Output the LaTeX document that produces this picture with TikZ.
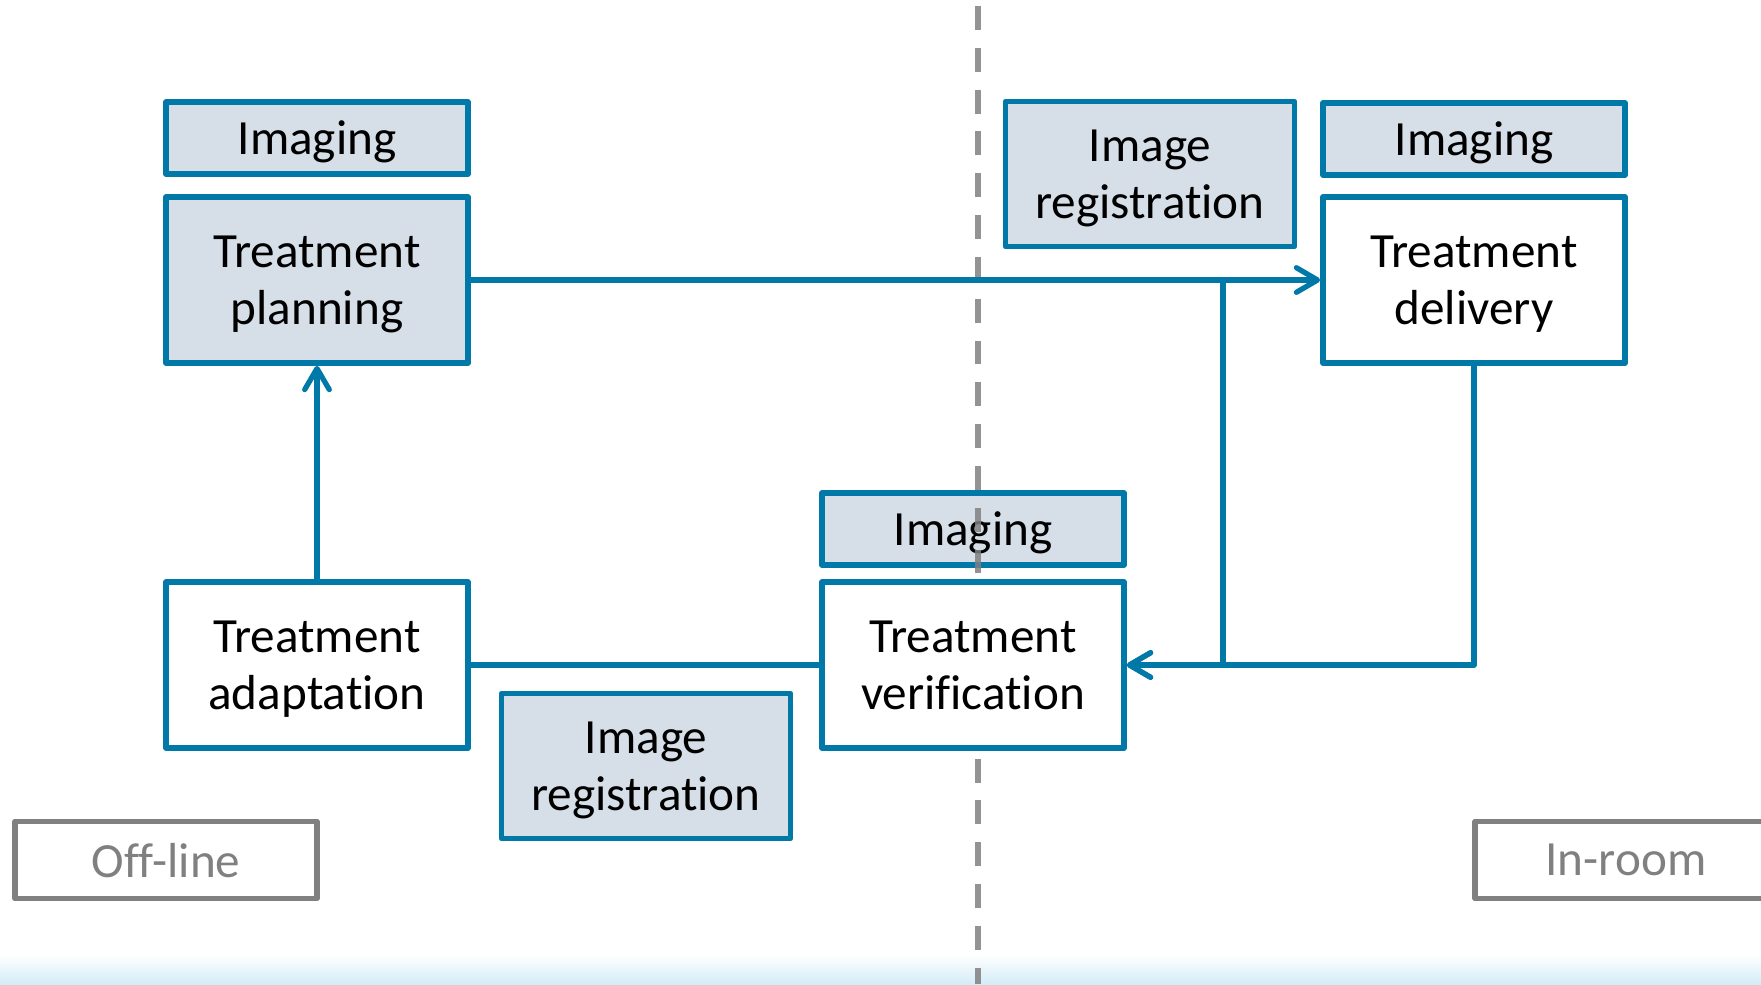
\documentclass[tikz,border=0pt]{standalone}
\usepackage{fontspec}
\setmainfont{Carlito}[Ligatures=NoCommon]
\usetikzlibrary{arrows.meta,positioning,calc}
\definecolor{FlowBlue}{HTML}{0079A8}
\definecolor{ToolFill}{HTML}{D6DFE8}
\definecolor{ModeGray}{HTML}{808080}
\definecolor{BandBlue}{HTML}{D3ECF7}

\begin{document}
\begin{tikzpicture}[x=0.02cm, y=-0.02cm,
    every node/.style={font=\fontsize{28}{32.5}\selectfont, align=center, text depth=0pt},
    stagebox/.style={draw=FlowBlue, line width=3.3pt, fill=white, line join=round,
      minimum width=6.04cm, minimum height=3.32cm, inner sep=0pt},
    toolbox/.style={stagebox, fill=ToolFill, minimum height=1.44cm},
    regbox/.style={stagebox, fill=ToolFill, minimum width=5.78cm, minimum height=2.9cm},
    modebox/.style={draw=ModeGray, line width=3.2pt, text=ModeGray, line join=round,
      minimum width=6.04cm, minimum height=1.54cm, inner sep=0pt},
    link/.style={draw=FlowBlue, line width=3pt, line cap=round, line join=round},
    arr/.style={link, -{Straight Barb[length=12pt, width=14pt, round]}}]
        \clip (0,0) rectangle (1761,984);
        \shade[top color=white, bottom color=BandBlue] (0,955) rectangle (1761,984);

        \node[toolbox] (imgplan) at (317,138) {Imaging};
        \node[stagebox, fill=ToolFill] (plan) at (317,280) {Treatment\\planning};
        \node[regbox] (regroom) at (1150,174) {Image\\registration};
        \node[toolbox] (imgdel) at (1474,139) {Imaging};
        \node[stagebox] (deliv) at (1474,280) {Treatment\\delivery};
        \node[stagebox] (adapt) at (317,665) {Treatment\\adaptation};
        \node[regbox] (regoff) at (646,766) {Image\\registration};
        \node[toolbox] (imgver) at (973,529) {Imaging};

        \coordinate (divtop) at (978,0);
        \coordinate (divbot) at (978,984);
        \draw[ModeGray, draw opacity=0.85, line width=3.4pt,
              dash pattern=on 13.6pt off 10.2pt, dash phase=20.4pt] (divtop) -- (divbot);

        \node[stagebox] (verif) at (973,665) {Treatment\\verification};
        \node[modebox] (offline) at (166,860) {Off-line};
        \node[modebox] (inroom) at (1626,860) {In-room};

        \coordinate (split) at (1223,280);
        \draw[arr] (plan) -- (deliv);
        \draw[arr] (split) |- (verif);
        \draw[arr] (deliv) |- (verif);
        \draw[link] (adapt) -- (verif);
        \draw[arr] (adapt) -- (plan);
      \end{tikzpicture}
\end{document}
